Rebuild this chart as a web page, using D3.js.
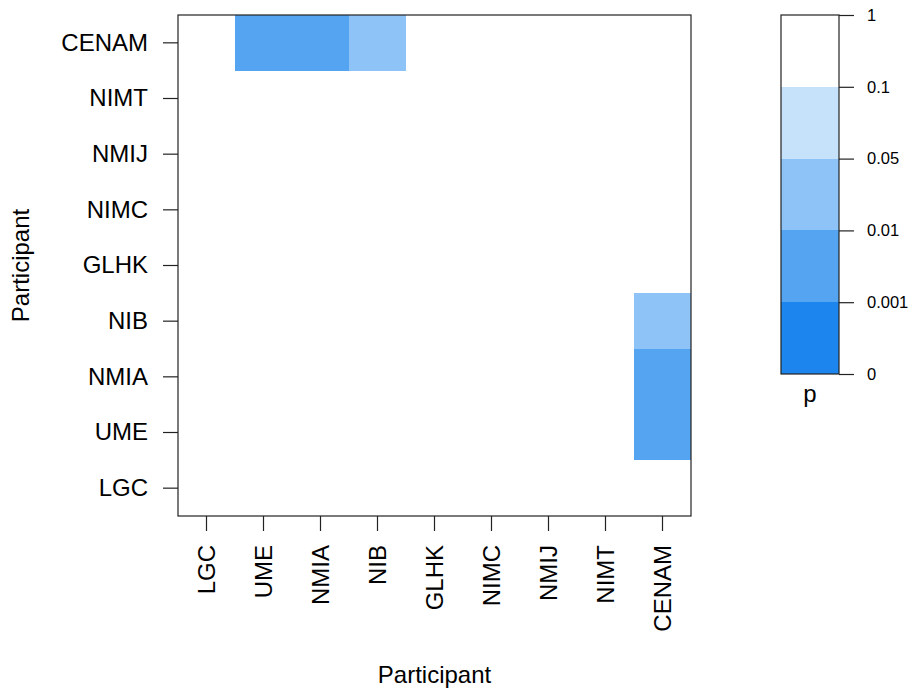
<!DOCTYPE html>
<html>
<head>
<meta charset="utf-8">
<script src="https://cdn.jsdelivr.net/npm/d3@7"></script>
<style>
  html, body { margin: 0; padding: 0; background: #fff; }
  svg { display: block; font-family: "Liberation Sans", Arial, sans-serif; }
</style>
</head>
<body>
<svg id="chart" width="910" height="693"></svg>
<script>
// Participants in axis order (bottom-to-top on y, left-to-right on x)
const participants = ["LGC", "UME", "NMIA", "NIB", "GLHK", "NIMC", "NMIJ", "NIMT", "CENAM"];

// Pairwise p-values, rows/columns follow `participants`
const pValues = [
  [1, 1, 1, 1, 1, 1, 1, 1, 1],
  [1, 1, 1, 1, 1, 1, 1, 1, 0.005],
  [1, 1, 1, 1, 1, 1, 1, 1, 0.005],
  [1, 1, 1, 1, 1, 1, 1, 1, 0.03],
  [1, 1, 1, 1, 1, 1, 1, 1, 1],
  [1, 1, 1, 1, 1, 1, 1, 1, 1],
  [1, 1, 1, 1, 1, 1, 1, 1, 1],
  [1, 1, 1, 1, 1, 1, 1, 1, 1],
  [1, 0.005, 0.005, 0.03, 1, 1, 1, 1, 1]
];

// Colour-key breaks (bottom to top) and band colours
const breaks = [0, 0.001, 0.01, 0.05, 0.1, 1];
const breakLabels = ["0", "0.001", "0.01", "0.05", "0.1", "1"];
const bandColors = ["#1c86ee", "#55a4f2", "#8ec3f7", "#c6e1fa", "#ffffff"];

const svg = d3.select("#chart");
const frame = { left: 178, right: 691, top: 15, bottom: 516 };
const FONT = "Liberation Sans, Arial, sans-serif";

const x = d3.scaleBand().domain(participants).range([frame.left, frame.right]);
const y = d3.scaleBand().domain(participants).range([frame.bottom, frame.top]);
const color = d3.scaleThreshold().domain(breaks.slice(1, -1)).range(bandColors);

// Cells
const cells = [];
pValues.forEach((row, i) => row.forEach((p, j) => cells.push({ row: participants[i], col: participants[j], p })));

svg.append("g").selectAll("rect")
  .data(cells)
  .join("rect")
  .attr("x", d => x(d.col))
  .attr("y", d => y(d.row))
  .attr("width", x.bandwidth())
  .attr("height", y.bandwidth())
  .attr("fill", d => color(d.p))
  .attr("shape-rendering", "crispEdges");

// Plot frame
svg.append("rect")
  .attr("x", frame.left).attr("y", frame.top)
  .attr("width", frame.right - frame.left).attr("height", frame.bottom - frame.top)
  .attr("fill", "none").attr("stroke", "#222").attr("stroke-width", 1.2);

// Y axis
const yAxis = svg.append("g")
  .attr("transform", `translate(${frame.left},0)`)
  .call(d3.axisLeft(y).tickSize(15).tickPadding(15));
yAxis.select(".domain").remove();
yAxis.selectAll("line").attr("stroke", "#222").attr("stroke-width", 1.2);
yAxis.selectAll("text").attr("font-size", 24).attr("fill", "#000").attr("font-family", FONT);

// X axis with vertical labels
const xAxis = svg.append("g")
  .attr("transform", `translate(0,${frame.bottom})`)
  .call(d3.axisBottom(x).tickSize(15));
xAxis.select(".domain").remove();
xAxis.selectAll("line").attr("stroke", "#222").attr("stroke-width", 1.2);
xAxis.selectAll("text")
  .attr("transform", "rotate(-90)")
  .attr("text-anchor", "end")
  .attr("x", -29).attr("y", 0).attr("dy", "0.35em")
  .attr("font-size", 24).attr("fill", "#000").attr("font-family", FONT);

// Axis titles
svg.append("text")
  .attr("x", (frame.left + frame.right) / 2).attr("y", 683)
  .attr("text-anchor", "middle").attr("font-size", 24).text("Participant");
svg.append("text")
  .attr("transform", `translate(29,${(frame.top + frame.bottom) / 2}) rotate(-90)`)
  .attr("text-anchor", "middle").attr("font-size", 24).text("Participant");

// Colour key
const key = { left: 781, right: 839, top: 15, bottom: 374 };
const kScale = d3.scalePoint().domain(breakLabels).range([key.bottom, key.top]);

svg.append("g").selectAll("rect")
  .data(bandColors)
  .join("rect")
  .attr("x", key.left)
  .attr("y", (c, i) => kScale(breakLabels[i + 1]))
  .attr("width", key.right - key.left)
  .attr("height", (c, i) => kScale(breakLabels[i]) - kScale(breakLabels[i + 1]))
  .attr("fill", c => c)
  .attr("shape-rendering", "crispEdges");

svg.append("rect")
  .attr("x", key.left).attr("y", key.top)
  .attr("width", key.right - key.left).attr("height", key.bottom - key.top)
  .attr("fill", "none").attr("stroke", "#222").attr("stroke-width", 1.2);

const kAxis = svg.append("g")
  .attr("transform", `translate(${key.right},0)`)
  .call(d3.axisRight(kScale).tickSize(15).tickPadding(13));
kAxis.select(".domain").remove();
kAxis.selectAll("line").attr("stroke", "#222").attr("stroke-width", 1.2);
kAxis.selectAll("text").attr("font-size", 16.5).attr("fill", "#000").attr("font-family", FONT);

svg.append("text")
  .attr("x", (key.left + key.right) / 2).attr("y", 402)
  .attr("text-anchor", "middle").attr("font-size", 24).text("p");
</script>
</body>
</html>
